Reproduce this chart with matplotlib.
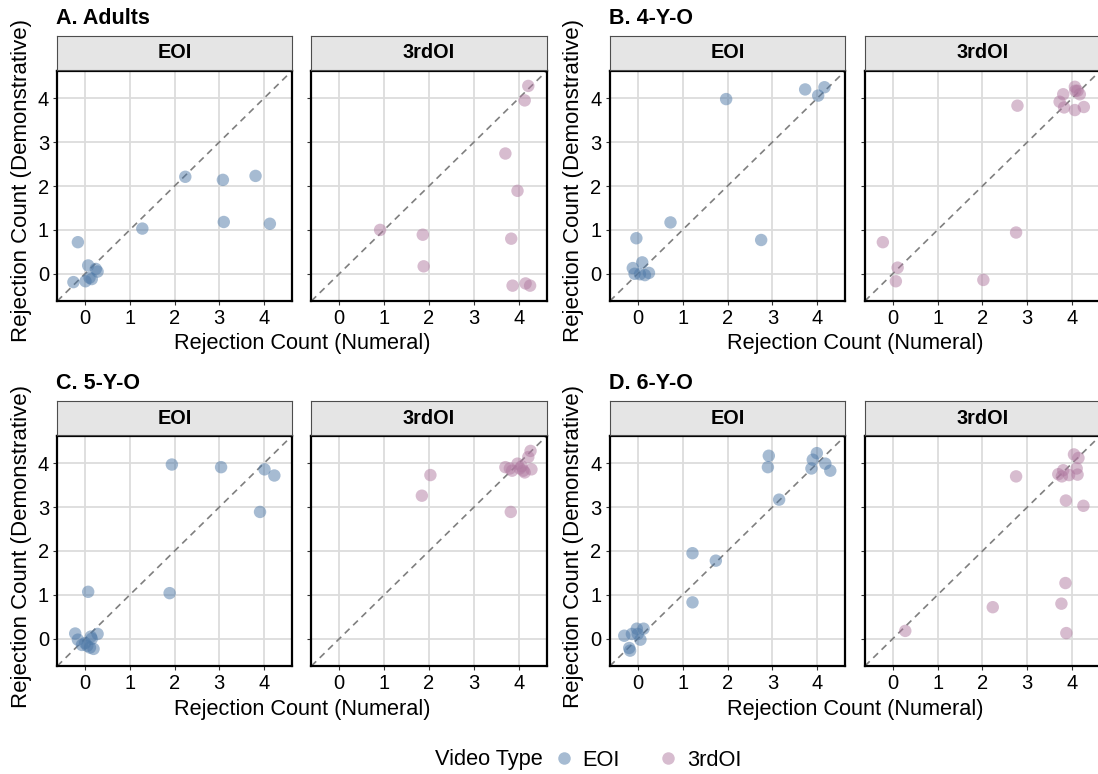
import numpy as np
import matplotlib
matplotlib.use("Agg")
import matplotlib.pyplot as plt
from matplotlib.lines import Line2D

plt.rcParams['font.family'] = ['Liberation Sans', 'DejaVu Sans']

# ---- data: jittered (numeral, demonstrative) rejection counts ----
adults_eoi_num = [-0.16, 1.28, 2.24, 3.08, 3.81, 3.10, 4.13, -0.26, 0.07, 0.24, 0.28, 0.01, 0.15, 0.10]
adults_eoi_dem = [0.72, 1.03, 2.21, 2.14, 2.23, 1.18, 1.14, -0.19, 0.19, 0.11, 0.05, -0.17, -0.12, -0.09]
adults_3rd_num = [4.21, 4.13, 3.70, 3.97, 0.91, 1.86, 1.88, 3.83, 3.86, 4.15, 4.25]
adults_3rd_dem = [4.28, 3.95, 2.74, 1.89, 1.00, 0.89, 0.17, 0.80, -0.27, -0.22, -0.27]

y4_eoi_num = [1.97, 3.73, 4.16, 4.02, 0.73, -0.03, 2.75, 0.10, -0.11, -0.07, 0.05, 0.16, 0.25]
y4_eoi_dem = [3.98, 4.20, 4.25, 4.06, 1.17, 0.81, 0.77, 0.26, 0.13, 0.00, -0.01, -0.03, 0.02]
y4_3rd_num = [-0.22, 0.11, 0.07, 2.02, 2.75, 2.78, 4.06, 3.80, 3.72, 3.82, 4.06, 4.26, 4.12, 4.17, 4.07]
y4_3rd_dem = [0.72, 0.14, -0.17, -0.14, 0.94, 3.83, 4.26, 4.09, 3.92, 3.79, 3.73, 3.80, 4.17, 4.09, 4.17]

y5_eoi_num = [1.94, 3.04, 4.01, 4.23, 3.91, 0.07, 1.89, -0.22, -0.16, -0.07, 0.05, 0.13, 0.28, 0.11, 0.19, 0.00, 0.15]
y5_eoi_dem = [3.97, 3.91, 3.86, 3.72, 2.89, 1.07, 1.04, 0.12, -0.02, -0.14, -0.16, 0.05, 0.11, -0.20, -0.23, -0.10, 0.00]
y5_3rd_num = [2.03, 1.84, 3.82, 4.26, 4.21, 3.70, 3.80, 3.85, 3.97, 4.06, 4.10, 4.13, 4.28, 4.02]
y5_3rd_dem = [3.73, 3.26, 2.89, 4.28, 4.14, 3.91, 3.88, 3.83, 3.99, 3.93, 3.83, 3.79, 3.86, 3.88]

y6_eoi_num = [2.92, 2.90, 3.99, 3.90, 3.87, 4.18, 4.29, 3.15, 1.22, 1.74, 1.22,
              -0.30, -0.13, -0.02, 0.13, 0.00, 0.06, -0.19, -0.17]
y6_eoi_dem = [4.17, 3.91, 4.23, 4.08, 3.88, 3.99, 3.83, 3.17, 1.95, 1.78, 0.83,
              0.07, 0.11, 0.23, 0.23, 0.11, -0.02, -0.21, -0.27]
y6_3rd_num = [0.28, 2.23, 2.75, 3.85, 3.76, 3.87, 3.86, 4.25, 4.04, 4.14, 4.10, 4.12, 3.69, 3.80, 3.77, 3.93]
y6_3rd_dem = [0.18, 0.72, 3.70, 1.27, 0.80, 0.13, 3.15, 3.03, 4.20, 4.12, 3.88, 3.74, 3.75, 3.84, 3.70, 3.73]

groups = ["A. Adults", "B. 4-Y-O", "C. 5-Y-O", "D. 6-Y-O"]
video_types = ["EOI", "3rdOI"]
panel_data = {
    "A. Adults": [(adults_eoi_num, adults_eoi_dem), (adults_3rd_num, adults_3rd_dem)],
    "B. 4-Y-O": [(y4_eoi_num, y4_eoi_dem), (y4_3rd_num, y4_3rd_dem)],
    "C. 5-Y-O": [(y5_eoi_num, y5_eoi_dem), (y5_3rd_num, y5_3rd_dem)],
    "D. 6-Y-O": [(y6_eoi_num, y6_eoi_dem), (y6_3rd_num, y6_3rd_dem)],
}
colors = {"EOI": "#4E79A7", "3rdOI": "#B07AA1"}
ticks = [0, 1, 2, 3, 4]

W, H = 1098, 774
fig = plt.figure(figsize=(W / 100, H / 100), dpi=100)


def px_axes(l, t, r, b):
    return fig.add_axes([l / W, 1 - b / H, (r - l) / W, (b - t) / H])


# panel layout in pixels
col_edges = [[(57.3, 291.8), (311.4, 546.7)], [(609.9, 845.1), (864.9, 1100)]]
row_edges = [(71, 301), (436, 666)]
strip_edges = [(36, 70), (401, 435)]
lim = (-0.62, 4.62)

for gi, g in enumerate(groups):
    r, c = divmod(gi, 2)
    top, bot = row_edges[r]
    st, sb = strip_edges[r]
    pair = col_edges[c]
    # panel tag
    fig.text((pair[0][0] - 1) / W, 1 - (18 + r * 365) / H, g, fontsize=15.5,
             fontweight="bold", ha="left", va="center")
    for vi, vt in enumerate(video_types):
        l, rr = pair[vi]
        ax = px_axes(l, top, rr, bot)
        xs, ys = panel_data[g][vi]
        ax.plot(lim, lim, ls=(0, (4, 3)), color="#7f7f7f", lw=1.2, zorder=2)
        ax.scatter(xs, ys, s=80, color=colors[vt], alpha=0.5, edgecolors="none", zorder=3)
        ax.set_xlim(lim)
        ax.set_ylim(lim)
        ax.set_xticks(ticks)
        ax.set_yticks(ticks)
        ax.grid(True, color="#dcdcdc", lw=1.3)
        ax.set_axisbelow(True)
        for sp in ax.spines.values():
            sp.set_color("black")
            sp.set_linewidth(1.6)
        ax.tick_params(axis="both", labelsize=14.5, length=3, width=0.8,
                       color="#333333", labelcolor="black", pad=3)
        if vi == 1:
            ax.tick_params(axis="y", labelleft=False)
        # facet strip
        sax = px_axes(l, st, rr, sb)
        sax.set_facecolor("#e5e5e5")
        sax.set_xticks([])
        sax.set_yticks([])
        for sp in sax.spines.values():
            sp.set_color("#4d4d4d")
            sp.set_linewidth(0.8)
        sax.text(0.5, 0.5, vt, transform=sax.transAxes, ha="center", va="center",
                 fontsize=14.3, fontweight="bold")
    # axis titles
    fig.text((pair[0][0] + pair[1][1]) / 2 / W, 1 - (bot + 43) / H, "Rejection Count (Numeral)",
             ha="center", va="center", fontsize=15.7)
    fig.text((pair[0][0] - 36) / W, 1 - (top + bot - 10) / 2 / H,
             "Rejection Count (Demonstrative)", ha="center", va="center",
             rotation=90, fontsize=16)

# legend
fig.text(435 / W, 1 - 760 / H, "Video Type", ha="left", va="center", fontsize=15.7)
handles = [Line2D([], [], marker="o", ls="none", markersize=9, markerfacecolor=colors[v],
                  markeredgecolor="none", alpha=0.5) for v in video_types]
fig.legend(handles, video_types, loc="center left", bbox_to_anchor=(553 / W, 1 - 760 / H),
           ncol=2, frameon=False, fontsize=15.7, handletextpad=0.35, columnspacing=1.72,
           handlelength=1.0, borderaxespad=0, borderpad=0)

fig.savefig("out.png", dpi=100)
